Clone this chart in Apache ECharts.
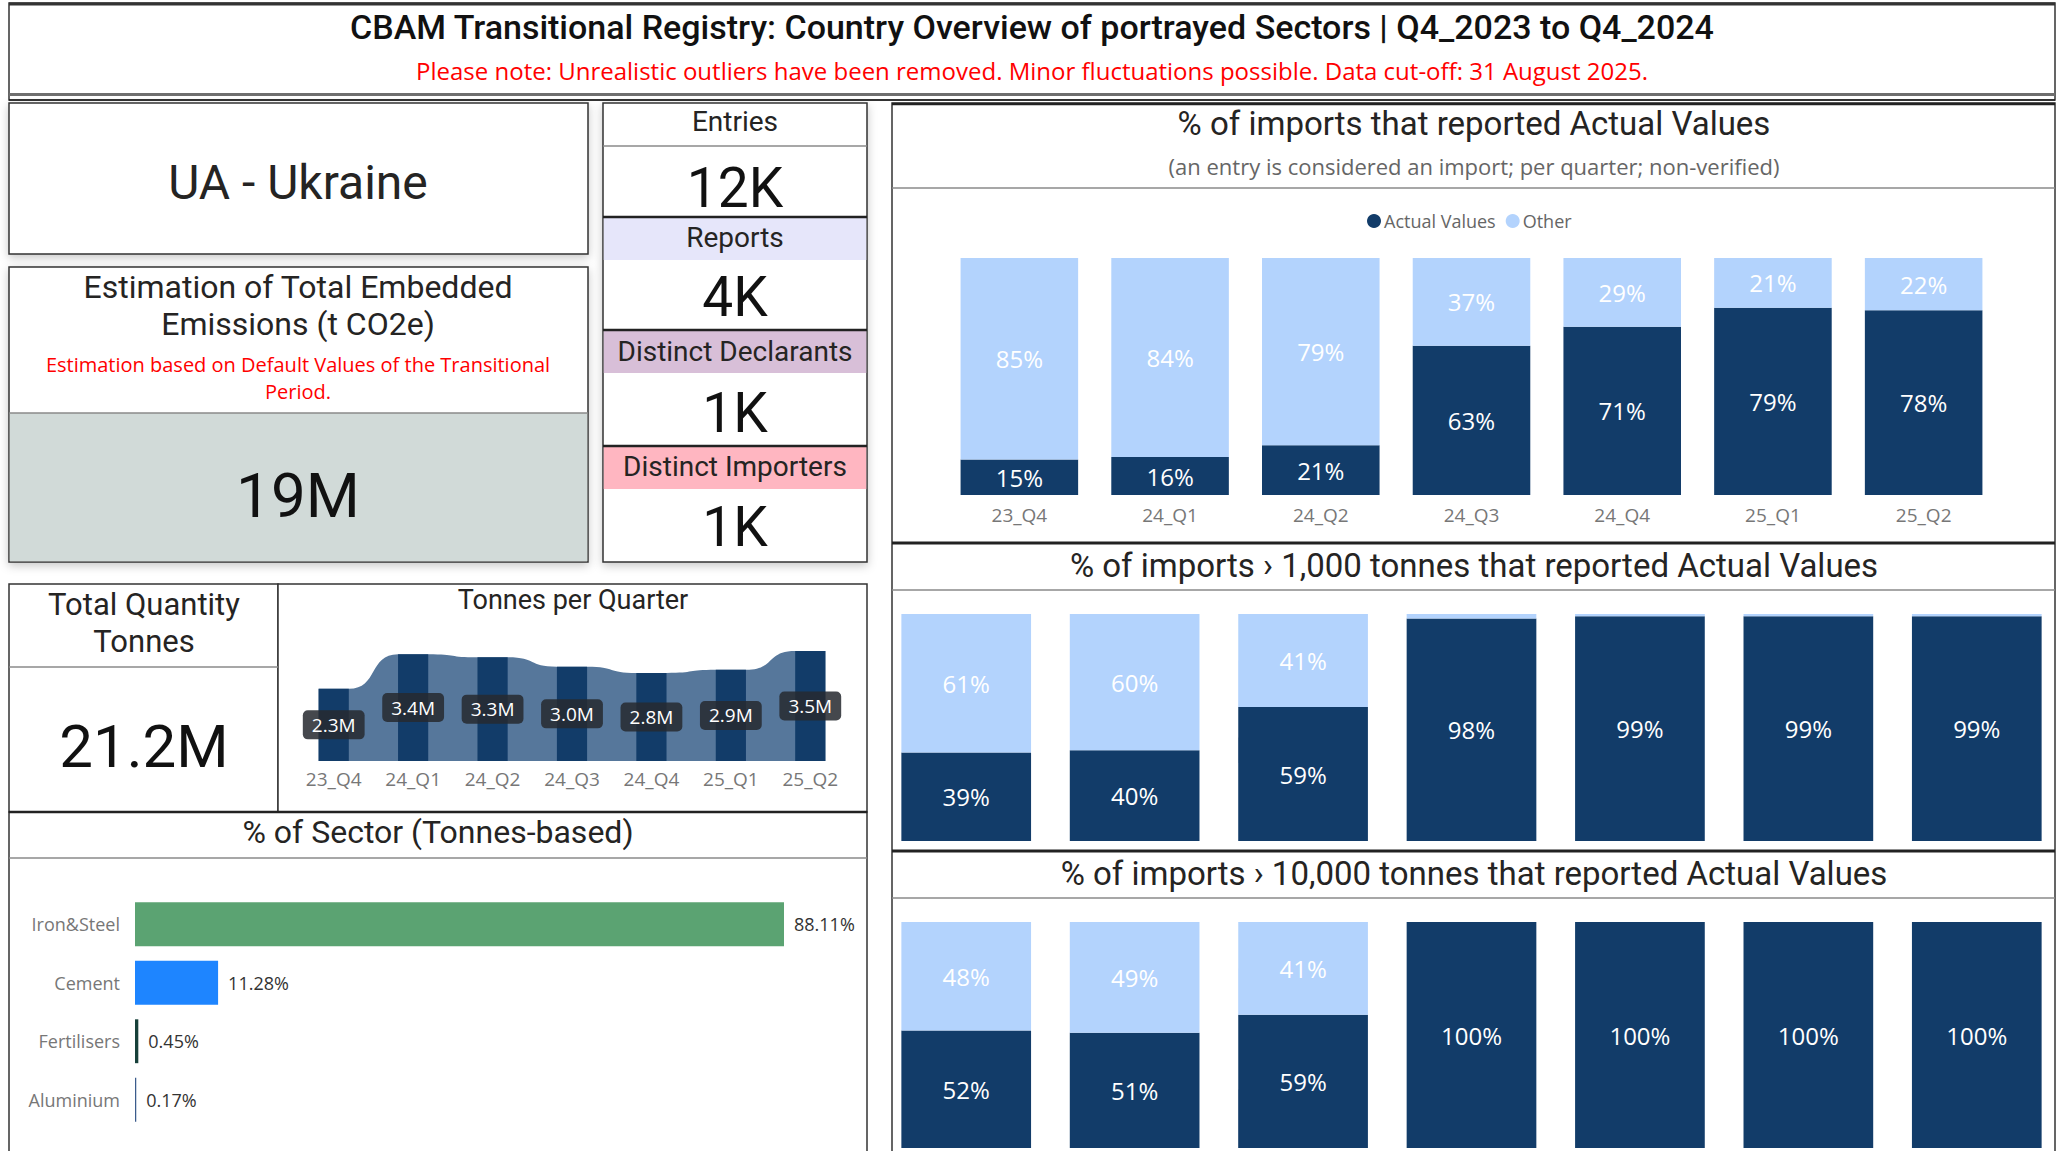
<!DOCTYPE html>
<html>
<head>
<meta charset="utf-8">
<title>CBAM Transitional Registry – Country Overview</title>
<script src="https://cdn.jsdelivr.net/npm/echarts@6/dist/echarts.min.js"></script>
<style>
  html, body { margin: 0; padding: 0; background: #ffffff; }
  #board { width: 2063px; height: 1151px; }
</style>
</head>
<body>
<div id="board"></div>
<script>
// ---- data -------------------------------------------------------------
const quarters = ['23_Q4', '24_Q1', '24_Q2', '24_Q3', '24_Q4', '25_Q1', '25_Q2'];
const tonnesPerQuarter = [2.3, 3.4, 3.3, 3.0, 2.8, 2.9, 3.5]; // million tonnes

const actualAll = [15, 16, 21, 63, 71, 79, 78];
const otherAll = [85, 84, 79, 37, 29, 21, 22];
const actualOver1k = [39, 40, 59, 98, 99, 99, 99];
const otherOver1k = [61, 60, 41, 2, 1, 1, 1];
const actualOver10k = [52, 51, 59, 100, 100, 100, 100];
const otherOver10k = [48, 49, 41, 0, 0, 0, 0];

const sectors = ['Iron&Steel', 'Cement', 'Fertilisers', 'Aluminium'];
const sectorShare = [88.11, 11.28, 0.45, 0.17];

const countryLabel = 'UA - Ukraine';
const entriesValue = '12K';
const reportsValue = '4K';
const declarantsValue = '1K';
const importersValue = '1K';
const emissionsValue = '19M';
const totalTonnesValue = '21.2M';

// ---- style ------------------------------------------------------------
const TITLE_FONT = 'Roboto, "Noto Sans", sans-serif';
const BODY_FONT = '"Open Sans", "Noto Sans", sans-serif';
const INK = '#252423';
const NAVY = '#123C69';
const LIGHT = '#B3D3FD';
const RED = '#FF0000';
const AXIS_GREY = '#777777';
const SECTOR_COLORS = ['#5BA372', '#1E85FF', '#17403A', '#3B5B8C'];

// ---- helpers for the card frames and texts -----------------------------
const gfx = [];
function rect(x, y, w, h, fill, stroke, lw, shadow) {
  gfx.push({
    type: 'rect', z: 0, silent: true,
    shape: { x: x, y: y, width: w, height: h },
    style: Object.assign({ fill: fill || 'none', stroke: stroke || 'none', lineWidth: lw || 0 },
      shadow ? { shadowBlur: 10, shadowColor: 'rgba(0,0,0,0.22)', shadowOffsetY: 3 } : {})
  });
}
function hline(x1, x2, y, color, lw) {
  gfx.push({
    type: 'line', z: 1, silent: true,
    shape: { x1: x1, y1: y, x2: x2, y2: y },
    style: { stroke: color, lineWidth: lw }
  });
}
function label(x, y, str, size, color, family, weight) {
  gfx.push({
    type: 'text', z: 5, silent: true, x: x, y: y,
    style: {
      text: str,
      font: (weight || 'normal') + ' ' + size + 'px ' + (family || TITLE_FONT),
      fill: color || INK,
      align: 'center', textAlign: 'center',
      verticalAlign: 'middle', textVerticalAlign: 'middle'
    }
  });
}

// header
rect(9, 3, 2046, 97, '#ffffff', '#333333', 1.5, false);
hline(9, 2055, 4, '#333333', 3);
hline(9, 2055, 94.5, '#6e6e6e', 3);
hline(9, 2055, 100, '#222222', 1.5);
label(1032, 27, 'CBAM Transitional Registry: Country Overview of portrayed Sectors | Q4_2023 to Q4_2024', 34, '#111111', TITLE_FONT, 500);
label(1032, 70, 'Please note: Unrealistic outliers have been removed. Minor fluctuations possible. Data cut-off: 31 August 2025.', 24, RED, BODY_FONT);

// country card
rect(9, 103, 579, 151, '#ffffff', '#333333', 1.5, true);
label(298, 182, countryLabel, 48, INK);

// emissions card
rect(9, 267, 579, 295, '#ffffff', '#333333', 1.5, true);
rect(9.75, 413, 577.5, 148.25, '#D1DAD8', null, 0, false);
hline(9, 588, 413, '#8a8a8a', 1.5);
label(298, 287, 'Estimation of Total Embedded', 32, INK);
label(298, 324, 'Emissions (t CO2e)', 32, INK);
label(298, 364, 'Estimation based on Default Values of the Transitional', 20, RED, BODY_FONT);
label(298, 391, 'Period.', 20, RED, BODY_FONT);
label(298, 495, emissionsValue, 62, '#111111');

// counts column
rect(603, 103, 264, 459, '#ffffff', '#333333', 1.5, true);
rect(603.75, 218, 262.5, 42, '#E6E6FA', null, 0, false);
rect(603.75, 331, 262.5, 42, '#D8BFD8', null, 0, false);
rect(603.75, 447, 262.5, 42, '#FFB6C1', null, 0, false);
hline(603, 867, 146, '#8a8a8a', 1.5);
hline(603, 867, 217, '#222222', 2.5);
hline(603, 867, 330, '#222222', 2.5);
hline(603, 867, 446, '#222222', 2.5);
label(735, 121, 'Entries', 28, INK);
label(735, 188, entriesValue, 55, '#111111');
label(735, 237, 'Reports', 28, INK);
label(735, 297, reportsValue, 55, '#111111');
label(735, 351, 'Distinct Declarants', 28, INK);
label(735, 413, declarantsValue, 55, '#111111');
label(735, 466, 'Distinct Importers', 28, INK);
label(735, 527, importersValue, 55, '#111111');

// total quantity card
rect(9, 584, 269, 228, '#ffffff', '#333333', 1.5, false);
hline(9, 278, 667, '#8a8a8a', 1.5);
label(144, 604, 'Total Quantity', 31, INK);
label(144, 641, 'Tonnes', 31, INK);
label(144, 746, totalTonnesValue, 60, '#111111');

// tonnes per quarter card
rect(278, 584, 589, 228, '#ffffff', '#333333', 1.5, false);
label(573, 600, 'Tonnes per Quarter', 27, INK);

// sector card
rect(9, 812, 858, 345, '#ffffff', '#333333', 1.5, false);
hline(9, 867, 812, '#222222', 2.5);
hline(9, 867, 858, '#8a8a8a', 1.5);
label(438, 832, '% of Sector (Tonnes-based)', 32, INK);

// right-hand panel with the three stacked charts
rect(892, 103, 1163, 1054, '#ffffff', '#333333', 1.5, false);
hline(892, 2055, 104, '#222222', 2.5);
hline(892, 2055, 188, '#8a8a8a', 1.5);
hline(892, 2055, 543, '#222222', 3);
hline(892, 2055, 590, '#8a8a8a', 1.5);
hline(892, 2055, 851, '#222222', 3);
hline(892, 2055, 898, '#8a8a8a', 1.5);
label(1474, 123, '% of imports that reported Actual Values', 33, INK);
label(1474, 166, '(an entry is considered an import; per quarter; non-verified)', 22, '#666666', BODY_FONT);
label(1474, 565, '% of imports \u203A 1,000 tonnes that reported Actual Values', 33, INK);
label(1474, 873, '% of imports \u203A 10,000 tonnes that reported Actual Values', 33, INK);

// ---- chart series -----------------------------------------------------
const pctLabel = {
  show: true, position: 'inside', color: '#ffffff',
  fontFamily: BODY_FONT, fontSize: 24,
  formatter: function (p) { return p.value >= 5 ? p.value + '%' : ''; }
};

function stackedPair(gridIdx, actual, other, stackName) {
  const gap = gridIdx === 1 ? '22%' : '23%';
  return [
    {
      type: 'bar', name: 'Actual Values', stack: stackName,
      xAxisIndex: gridIdx, yAxisIndex: gridIdx,
      data: actual, barCategoryGap: gap,
      itemStyle: { color: NAVY }, label: pctLabel, silent: true
    },
    {
      type: 'bar', name: 'Other', stack: stackName,
      xAxisIndex: gridIdx, yAxisIndex: gridIdx,
      data: other, barCategoryGap: gap,
      itemStyle: { color: LIGHT }, label: pctLabel, silent: true
    }
  ];
}

// the shaded band behind the tonnage columns: flat across each column, eased between them
const tonnesBand = tonnesPerQuarter.flatMap(function (v, i) { return [[i - 0.19, v], [i + 0.19, v]]; });

const hiddenValueAxis = function (gridIndex, extra) {
  return Object.assign({
    type: 'value', gridIndex: gridIndex, show: false,
    splitLine: { show: false }
  }, extra || {});
};
const catAxis = function (gridIndex, showLabels, fontSize, margin) {
  return {
    type: 'category', gridIndex: gridIndex, data: quarters,
    axisLine: { show: false }, axisTick: { show: false },
    axisLabel: { show: showLabels, color: AXIS_GREY, fontFamily: BODY_FONT, fontSize: fontSize || 19, margin: margin || 10 }
  };
};

const option = {
  animation: false,
  backgroundColor: '#ffffff',
  graphic: { elements: gfx },
  legend: {
    left: 1362, top: 207,
    data: ['Actual Values', 'Other'],
    icon: 'circle', itemWidth: 14, itemHeight: 14, itemGap: 10,
    textStyle: { color: '#666666', fontFamily: BODY_FONT, fontSize: 18, padding: [0, 0, 0, -2] },
    selectedMode: false
  },
  grid: [
    { left: 294, top: 651, width: 556, height: 110 },   // tonnes per quarter
    { left: 944, top: 258, width: 1055, height: 237 },  // all imports
    { left: 882, top: 614, width: 1179, height: 227 },  // > 1,000 t
    { left: 882, top: 922, width: 1179, height: 226 },  // > 10,000 t
    { left: 135, top: 895, width: 649, height: 234 }    // sector shares
  ],
  xAxis: [
    catAxis(0, true, 19, 8),
    catAxis(1, true, 19, 10),
    catAxis(2, false),
    catAxis(3, false),
    hiddenValueAxis(4, { min: 0, max: 'dataMax' }),
    hiddenValueAxis(0, { min: -0.5, max: quarters.length - 0.5 })
  ],
  yAxis: [
    hiddenValueAxis(0, { min: 0, max: 'dataMax' }),
    hiddenValueAxis(1, { min: 0, max: 100 }),
    hiddenValueAxis(2, { min: 0, max: 100 }),
    hiddenValueAxis(3, { min: 0, max: 100 }),
    {
      type: 'category', gridIndex: 4, data: sectors, inverse: true,
      axisLine: { show: false }, axisTick: { show: false },
      axisLabel: { color: AXIS_GREY, fontFamily: BODY_FONT, fontSize: 18, margin: 15 }
    }
  ],
  series: [
    {
      type: 'line', name: 'band', xAxisIndex: 5, yAxisIndex: 0,
      data: tonnesBand, smooth: 0.6, smoothMonotone: 'x', symbol: 'none',
      lineStyle: { width: 0 }, areaStyle: { color: '#56779B', opacity: 1 },
      z: 1, silent: true, clip: false
    },
    {
      type: 'bar', name: 'Tonnes', xAxisIndex: 0, yAxisIndex: 0,
      data: tonnesPerQuarter, barWidth: '38%', z: 3, silent: true,
      itemStyle: { color: NAVY },
      label: {
        show: true, position: 'inside',
        formatter: function (p) { return p.value.toFixed(1) + 'M'; },
        color: '#ffffff', fontFamily: BODY_FONT, fontSize: 19,
        backgroundColor: 'rgba(38,42,48,0.86)', borderRadius: 5, padding: [5, 9]
      }
    }
  ]
    .concat(stackedPair(1, actualAll, otherAll, 'all'))
    .concat(stackedPair(2, actualOver1k, otherOver1k, 'k1'))
    .concat(stackedPair(3, actualOver10k, otherOver10k, 'k10'))
    .concat([{
      type: 'bar', name: 'Sector', xAxisIndex: 4, yAxisIndex: 4,
      data: sectorShare.map(function (v, i) { return { value: v, itemStyle: { color: SECTOR_COLORS[i] } }; }),
      barCategoryGap: '25%', silent: true,
      label: {
        show: true, position: 'right', distance: 10,
        color: '#333333', fontFamily: BODY_FONT, fontSize: 18,
        formatter: function (p) { return p.value.toFixed(2) + '%'; }
      }
    }])
};

const chart = echarts.init(document.getElementById('board'), null, { renderer: 'svg', width: 2063, height: 1151 });
chart.setOption(option);
</script>
</body>
</html>
